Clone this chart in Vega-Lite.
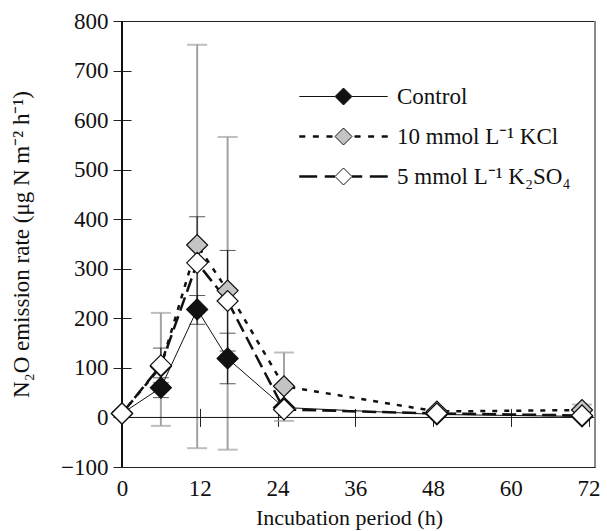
{
  "$schema": "https://vega.github.io/schema/vega-lite/v6.json",
  "width": 473,
  "height": 446,
  "autosize": {"type": "none"},
  "padding": {"left": 122, "top": 21, "right": 12, "bottom": 64},
  "config": {
    "font": "Liberation Serif",
    "view": {"stroke": "#222", "strokeWidth": 1},
    "axis": {
      "grid": false,
      "domain": false,
      "labelFont": "Liberation Serif",
      "titleFont": "Liberation Serif",
      "labelFontSize": 23,
      "titleFontSize": 22,
      "titleFontWeight": "normal",
      "labelColor": "#111",
      "titleColor": "#111",
      "tickColor": "#222",
      "tickSize": 18,
      "tickWidth": 1,
      "labelFlush": false,
      "labelOverlap": false
    },
    "legend": {
      "title": null,
      "orient": "none",
      "legendX": 210,
      "legendY": 64,
      "symbolSize": 289,
      "symbolStrokeWidth": 1,
      "symbolStrokeColor": "#111",
      "symbolOpacity": 1,
      "labelFont": "Liberation Serif",
      "labelFontSize": 23,
      "labelColor": "#111",
      "labelOffset": 42,
      "labelLimit": 400,
      "rowPadding": 16
    }
  },
  "datasets": {
    "obs": [
      {"series": "10 mmol L⁻¹ KCl", "t": 0, "v": 8, "lo": 5, "hi": 11},
      {"series": "10 mmol L⁻¹ KCl", "t": 6, "v": 103, "lo": -17, "hi": 211},
      {"series": "10 mmol L⁻¹ KCl", "t": 11.6, "v": 348, "lo": -62, "hi": 752},
      {"series": "10 mmol L⁻¹ KCl", "t": 16.3, "v": 256, "lo": -65, "hi": 566},
      {"series": "10 mmol L⁻¹ KCl", "t": 25, "v": 63, "lo": -7, "hi": 131},
      {"series": "10 mmol L⁻¹ KCl", "t": 48.6, "v": 12, "lo": 9, "hi": 15},
      {"series": "10 mmol L⁻¹ KCl", "t": 71, "v": 15, "lo": 4, "hi": 26},
      {"series": "Control", "t": 0, "v": 8, "lo": 5, "hi": 11},
      {"series": "Control", "t": 6, "v": 60, "lo": 40, "hi": 80},
      {"series": "Control", "t": 11.6, "v": 218, "lo": 188, "hi": 246},
      {"series": "Control", "t": 16.3, "v": 119, "lo": 68, "hi": 170},
      {"series": "Control", "t": 25, "v": 20, "lo": 16, "hi": 24},
      {"series": "Control", "t": 48.6, "v": 6, "lo": 4, "hi": 8},
      {"series": "Control", "t": 71, "v": 2, "lo": 0, "hi": 4},
      {"series": "5 mmol L⁻¹ K₂SO₄", "t": 0, "v": 8, "lo": 5, "hi": 11},
      {"series": "5 mmol L⁻¹ K₂SO₄", "t": 6, "v": 105, "lo": 70, "hi": 140},
      {"series": "5 mmol L⁻¹ K₂SO₄", "t": 11.6, "v": 312, "lo": 219, "hi": 405},
      {"series": "5 mmol L⁻¹ K₂SO₄", "t": 16.3, "v": 235, "lo": 134, "hi": 337},
      {"series": "5 mmol L⁻¹ K₂SO₄", "t": 25, "v": 16, "lo": 10, "hi": 22},
      {"series": "5 mmol L⁻¹ K₂SO₄", "t": 48.6, "v": 8, "lo": 5, "hi": 11},
      {"series": "5 mmol L⁻¹ K₂SO₄", "t": 71, "v": 4, "lo": 1, "hi": 7}
    ]
  },
  "data": {"name": "obs"},
  "layer": [
    {
      "transform": [{"filter": "datum.series === '10 mmol L⁻¹ KCl'"}],
      "mark": {"type": "rule", "color": "#a3a3a3", "strokeWidth": 2},
      "encoding": {
        "x": {
          "field": "t", "type": "quantitative",
          "scale": {"domain": [0, 73], "nice": false, "zero": false},
          "axis": {"values": [0, 12, 24, 36, 48, 60, 72], "title": "Incubation period (h)", "offset": -58.6, "labelPadding": 51, "titlePadding": 7, "titleX": 227, "labelFont": "Liberation Serif", "titleFont": "Liberation Serif"}
        },
        "y": {
          "field": "lo", "type": "quantitative",
          "scale": {"domain": [-100, 800], "nice": false, "zero": false},
          "axis": {"values": [-100, 0, 100, 200, 300, 400, 500, 600, 700, 800], "title": "N₂O emission rate (μg N m⁻² h⁻¹)", "offset": -9, "labelPadding": 5, "titlePadding": 27, "titleFontSize": 23, "labelFont": "Liberation Serif", "titleFont": "Liberation Serif"}
        },
        "y2": {"field": "hi"}
      }
    },
    {
      "transform": [{"filter": "datum.series === '10 mmol L⁻¹ KCl'"}],
      "mark": {"type": "tick", "orient": "horizontal", "color": "#a3a3a3", "size": 20, "thickness": 2},
      "encoding": {
        "x": {"field": "t", "type": "quantitative", "title": "Incubation period (h)"},
        "y": {"field": "hi", "type": "quantitative", "title": "N₂O emission rate (μg N m⁻² h⁻¹)"}
      }
    },
    {
      "transform": [{"filter": "datum.series === '10 mmol L⁻¹ KCl'"}],
      "mark": {"type": "tick", "orient": "horizontal", "color": "#a3a3a3", "size": 20, "thickness": 2},
      "encoding": {
        "x": {"field": "t", "type": "quantitative", "title": "Incubation period (h)"},
        "y": {"field": "lo", "type": "quantitative", "title": "N₂O emission rate (μg N m⁻² h⁻¹)"}
      }
    },
    {
      "transform": [{"filter": "datum.series !== '10 mmol L⁻¹ KCl'"}],
      "mark": {"type": "rule", "color": "#111", "strokeWidth": 1},
      "encoding": {
        "x": {"field": "t", "type": "quantitative", "title": "Incubation period (h)"},
        "y": {"field": "lo", "type": "quantitative", "title": "N₂O emission rate (μg N m⁻² h⁻¹)"},
        "y2": {"field": "hi"}
      }
    },
    {
      "transform": [{"filter": "datum.series !== '10 mmol L⁻¹ KCl'"}],
      "mark": {"type": "tick", "orient": "horizontal", "color": "#111", "size": 16, "thickness": 1},
      "encoding": {
        "x": {"field": "t", "type": "quantitative", "title": "Incubation period (h)"},
        "y": {"field": "hi", "type": "quantitative", "title": "N₂O emission rate (μg N m⁻² h⁻¹)"}
      }
    },
    {
      "transform": [{"filter": "datum.series !== '10 mmol L⁻¹ KCl'"}],
      "mark": {"type": "tick", "orient": "horizontal", "color": "#111", "size": 16, "thickness": 1},
      "encoding": {
        "x": {"field": "t", "type": "quantitative", "title": "Incubation period (h)"},
        "y": {"field": "lo", "type": "quantitative", "title": "N₂O emission rate (μg N m⁻² h⁻¹)"}
      }
    },
    {
      "data": {"values": [{}]},
      "mark": {"type": "rule", "color": "#111", "strokeWidth": 1},
      "encoding": {"y": {"datum": 0, "type": "quantitative", "title": "N₂O emission rate (μg N m⁻² h⁻¹)"}}
    },
    {
      "data": {"values": [{}]},
      "mark": {"type": "rule", "color": "#111", "strokeWidth": 2},
      "encoding": {"x": {"datum": 0, "type": "quantitative", "title": "Incubation period (h)"}}
    },
    {
      "data": {"values": [{}]},
      "mark": {"type": "rule", "color": "#8a8a8a", "strokeWidth": 2},
      "encoding": {"x": {"datum": 73, "type": "quantitative", "title": "Incubation period (h)"}}
    },
    {
      "transform": [{"filter": "datum.series === 'Control'"}],
      "mark": {"type": "line", "stroke": "#111", "strokeWidth": 1},
      "encoding": {
        "x": {"field": "t", "type": "quantitative", "title": "Incubation period (h)"},
        "y": {"field": "v", "type": "quantitative", "title": "N₂O emission rate (μg N m⁻² h⁻¹)"}
      }
    },
    {
      "transform": [{"filter": "datum.series !== 'Control'"}],
      "mark": {"type": "line", "stroke": "#111", "strokeWidth": 2.5},
      "encoding": {
        "x": {"field": "t", "type": "quantitative", "title": "Incubation period (h)"},
        "y": {"field": "v", "type": "quantitative", "title": "N₂O emission rate (μg N m⁻² h⁻¹)"},
        "strokeDash": {
          "field": "series", "type": "nominal",
          "scale": {"domain": ["10 mmol L⁻¹ KCl", "5 mmol L⁻¹ K₂SO₄"], "range": [[5, 7], [14, 6]]},
          "legend": null
        }
      }
    },
    {
      "mark": {"type": "point", "shape": "diamond", "filled": true, "size": 441, "stroke": "#111", "strokeWidth": 1.2, "opacity": 1},
      "encoding": {
        "x": {"field": "t", "type": "quantitative", "title": "Incubation period (h)"},
        "y": {"field": "v", "type": "quantitative", "title": "N₂O emission rate (μg N m⁻² h⁻¹)"},
        "fill": {
          "condition": [
            {"test": "datum.series === 'Control'", "value": "#111111"},
            {"test": "datum.series === '10 mmol L⁻¹ KCl'", "value": "#c4c4c4"}
          ],
          "value": "#ffffff"
        }
      }
    },
    {
      "transform": [{"filter": "false"}],
      "mark": {"type": "point", "filled": true, "strokeWidth": 1, "opacity": 1},
      "encoding": {
        "x": {"field": "t", "type": "quantitative", "title": "Incubation period (h)"},
        "y": {"field": "v", "type": "quantitative", "title": "N₂O emission rate (μg N m⁻² h⁻¹)"},
        "fill": {
          "field": "series", "type": "nominal",
          "scale": {"domain": ["Control", "10 mmol L⁻¹ KCl", "5 mmol L⁻¹ K₂SO₄"], "range": ["#111111", "#c4c4c4", "#ffffff"]},
          "legend": {"title": null}
        },
        "stroke": {
          "field": "series", "type": "nominal",
          "scale": {"domain": ["Control", "10 mmol L⁻¹ KCl", "5 mmol L⁻¹ K₂SO₄"], "range": ["#111111", "#111111", "#111111"]},
          "legend": {"title": null}
        },
        "shape": {
          "field": "series", "type": "nominal",
          "scale": {
            "domain": ["Control", "10 mmol L⁻¹ KCl", "5 mmol L⁻¹ K₂SO₄"],
            "range": [
              "M-5.2,0L-1,0M1,0L5.2,0M-1,0L0,-1L1,0L0,1Z",
              "M-5.2,-0.09L-4.5,-0.09M-5.2,0L-4.5,0M-5.2,0.09L-4.5,0.09M-3.6,-0.09L-2.9,-0.09M-3.6,0L-2.9,0M-3.6,0.09L-2.9,0.09M-2,-0.09L-1.3,-0.09M-2,0L-1.3,0M-2,0.09L-1.3,0.09M1.3,-0.09L2,-0.09M1.3,0L2,0M1.3,0.09L2,0.09M2.9,-0.09L3.6,-0.09M2.9,0L3.6,0M2.9,0.09L3.6,0.09M4.5,-0.09L5.2,-0.09M4.5,0L5.2,0M4.5,0.09L5.2,0.09M-1,0L0,-1L1,0L0,1Z",
              "M-5.2,-0.09L-3.1,-0.09M-5.2,0L-3.1,0M-5.2,0.09L-3.1,0.09M-2.2,-0.09L-1,-0.09M-2.2,0L-1,0M-2.2,0.09L-1,0.09M1,-0.09L2.2,-0.09M1,0L2.2,0M1,0.09L2.2,0.09M3.1,-0.09L5.2,-0.09M3.1,0L5.2,0M3.1,0.09L5.2,0.09M-1,0L0,-1L1,0L0,1Z"
            ]
          },
          "legend": {"title": null}
        }
      }
    }
  ]
}
